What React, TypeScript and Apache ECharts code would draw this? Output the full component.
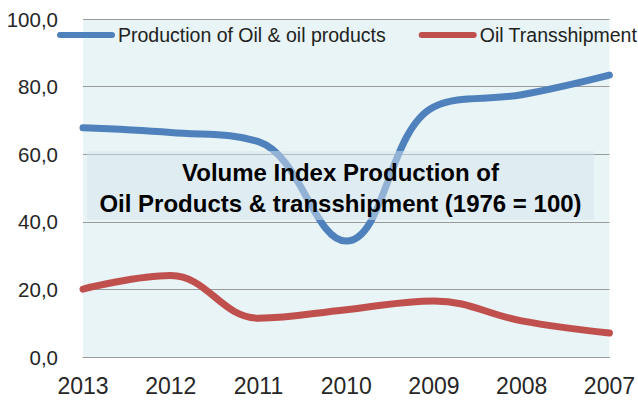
import React, { useEffect, useRef } from "react";
import * as echarts from "echarts";

const years = ["2013", "2012", "2011", "2010", "2009", "2008", "2007"];
const production = [67.8, 66.4, 63.7, 34.3, 74.0, 77.6, 83.4];
const transshipment = [20.1, 24.1, 11.5, 14.0, 16.6, 10.7, 7.1];
const seriesNames = ["Production of Oil & oil products", "Oil Transshipment"];
const titleLines = ["Volume Index Production of", "Oil Products & transshipment (1976 = 100)"];
const yTicks = { min: 0, max: 100, interval: 20 };

const FONT = "'Liberation Sans', Arial, sans-serif";
const legendIcon = "path://M3,0 H55 A3,3 0 0 1 55,6 H3 A3,3 0 0 1 3,0 Z";

export default function App() {
  const ref = useRef<HTMLDivElement>(null);
  useEffect(() => {
    document.body.style.margin = "0";
    if (!ref.current) return;
    const chart = echarts.init(ref.current, undefined, { renderer: "svg" });
    chart.setOption({
      animation: false,
      backgroundColor: "#ffffff",
      textStyle: { fontFamily: FONT },
      grid: {
        left: 83,
        right: 27,
        top: 19,
        bottom: 43,
        show: true,
        backgroundColor: "#e8f4f6",
        borderWidth: 0,
      },
      legend: {
        left: 57,
        top: 25,
        padding: 0,
        itemWidth: 58,
        itemHeight: 6,
        itemGap: 33,
        icon: legendIcon,
        textStyle: { fontFamily: FONT, fontSize: 19.5, color: "#222222", padding: [0, 0, 0, -2] },
        data: seriesNames,
      },
      xAxis: {
        type: "category",
        data: years,
        boundaryGap: false,
        axisLine: { show: true, lineStyle: { color: "#9a9a9a", width: 1 } },
        axisTick: { show: false },
        axisLabel: { fontFamily: FONT, fontSize: 23, color: "#262626", margin: 17 },
        splitLine: { show: false },
      },
      yAxis: {
        type: "value",
        min: yTicks.min,
        max: yTicks.max,
        interval: yTicks.interval,
        axisLine: { show: false },
        axisTick: { show: false },
        axisLabel: {
          fontFamily: FONT,
          fontSize: 20.5,
          color: "#262626",
          margin: 25,
          formatter: (v: number) => v.toFixed(1).replace(".", ","),
        },
        splitLine: { show: true, lineStyle: { color: "#9a9a9a", width: 1 } },
      },
      series: [
        {
          name: seriesNames[0],
          type: "line",
          data: production,
          smooth: 0.4,
          showSymbol: false,
          symbol: "none",
          lineStyle: { color: "#4f81bd", width: 7, cap: "round" },
          itemStyle: { color: "#4f81bd" },
          z: 2,
        },
        {
          name: seriesNames[1],
          type: "line",
          data: transshipment,
          smooth: 0.4,
          showSymbol: false,
          symbol: "none",
          lineStyle: { color: "#c0504d", width: 7, cap: "round" },
          itemStyle: { color: "#c0504d" },
          z: 2,
        },
      ],
      graphic: [
        {
          type: "rect",
          z: 100,
          shape: { x: 87, y: 151, width: 507, height: 69 },
          style: { fill: "rgba(214,227,238,0.5)" },
        },
        {
          type: "text",
          z: 101,
          x: 340.5,
          y: 172,
          style: {
            text: titleLines[0],
            font: `bold 24px ${FONT}`,
            fill: "#000000",
            align: "center",
            verticalAlign: "middle",
          },
        },
        {
          type: "text",
          z: 101,
          x: 340.5,
          y: 203,
          style: {
            text: titleLines[1],
            font: `bold 24px ${FONT}`,
            fill: "#000000",
            align: "center",
            verticalAlign: "middle",
          },
        },
      ],
    });
    return () => chart.dispose();
  }, []);
  return <div ref={ref} style={{ width: 638, height: 400 }} />;
}
